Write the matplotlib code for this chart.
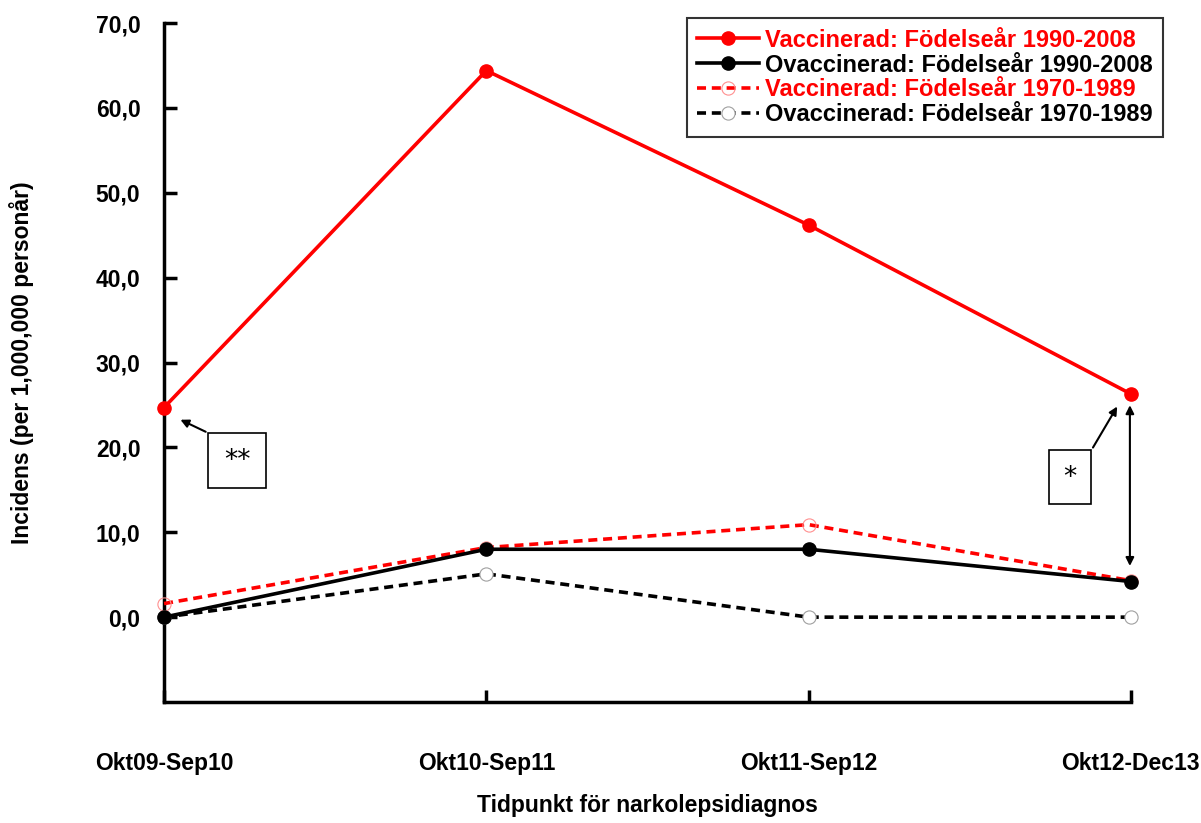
import matplotlib.pyplot as plt
from matplotlib.patches import Rectangle

plt.rcParams['font.family'] = ['Liberation Sans', 'DejaVu Sans']
plt.rcParams['font.weight'] = 'bold'

perioder = ['Okt09-Sep10', 'Okt10-Sep11', 'Okt11-Sep12', 'Okt12-Dec13']
vacc_90 = [24.7, 64.4, 46.2, 26.3]
ovacc_90 = [0.0, 8.0, 8.0, 4.2]
vacc_70 = [1.6, 8.2, 10.9, 4.3]
ovacc_70 = [0.0, 5.1, 0.0, 0.0]
y_ticks = [0, 10, 20, 30, 40, 50, 60, 70]

x = list(range(len(perioder)))

fig = plt.figure(figsize=(12.01, 8.23), dpi=100)
ax = fig.add_axes([0.1366, 0.147, 0.805, 0.825])

ax.plot(x, vacc_90, '-', color='#ff0000', lw=2.6, marker='o', ms=9.5,
        mfc='#ff0000', mec='#ff0000', clip_on=False, zorder=4,
        label='Vaccinerad: Födelseår 1990-2008')
ax.plot(x, ovacc_90, '-', color='black', lw=2.6, marker='o', ms=9.5,
        mfc='black', mec='black', clip_on=False, zorder=5,
        label='Ovaccinerad: Födelseår 1990-2008')
ax.plot(x, vacc_70, '--', color='#ff0000', lw=2.6, dashes=(2.5, 1.6), marker='o', ms=9.5,
        mfc='none', mec='#ff9090', mew=0.8, clip_on=False, zorder=4,
        label='Vaccinerad: Födelseår 1970-1989')
ax.plot(x, ovacc_70, '--', color='black', lw=2.6, dashes=(2.5, 1.6), marker='o', ms=9.5,
        mfc='white', mec='#a0a0a0', mew=0.8, clip_on=False, zorder=3,
        label='Ovaccinerad: Födelseår 1970-1989')

ax.set_xlim(0, 3)
ax.set_ylim(-10, 70)
ax.set_xticks(x)
ax.set_xticklabels(perioder, fontsize=16.5, fontweight='bold')
ax.set_yticks(y_ticks)
ax.set_yticklabels([f'{v},0' for v in y_ticks], fontsize=16.5, fontweight='bold')
ax.tick_params(direction='in', width=2.5, length=9, pad=36, axis='x')
ax.tick_params(direction='in', width=2.5, length=9, pad=17, axis='y')
for s in ['top', 'right']:
    ax.spines[s].set_visible(False)
for s in ['left', 'bottom']:
    ax.spines[s].set_linewidth(2.5)

ax.set_xlabel('Tidpunkt för narkolepsidiagnos', fontsize=16.5, fontweight='bold', labelpad=14)
ax.set_ylabel('Incidens (per 1,000,000 personår)', fontsize=16.5, fontweight='bold', labelpad=44)

leg = ax.legend(loc='upper right', bbox_to_anchor=(1163 / 1201, 1 - 18 / 823),
                bbox_transform=fig.transFigure, borderaxespad=0, fontsize=17,
                frameon=True, fancybox=False, edgecolor='black', handlelength=2.6,
                handletextpad=0.25, labelspacing=0.08, borderpad=0.45)
leg.get_frame().set_linewidth(1.5)
for txt, c in zip(leg.get_texts(), ['#ff0000', 'black', '#ff0000', 'black']):
    txt.set_color(c)
    txt.set_fontweight('bold')

# annotation boxes
ax.add_patch(Rectangle((0.137, 15.2), 0.18, 6.5, fill=False, ec='black', lw=1.2, zorder=6))
ax.text(0.227, 18.4, '**', ha='center', va='center', fontsize=19, fontweight='normal',
        family='DejaVu Sans')
ax.annotate('', xy=(0.043, 23.4), xytext=(0.137, 21.7),
            arrowprops=dict(arrowstyle='-|>', color='black', lw=1.5, mutation_scale=12))

ax.add_patch(Rectangle((2.746, 13.3), 0.13, 6.4, fill=False, ec='black', lw=1.2, zorder=6))
ax.text(2.811, 16.4, '*', ha='center', va='center', fontsize=19, fontweight='normal',
        family='DejaVu Sans')
ax.annotate('', xy=(2.962, 25.1), xytext=(2.878, 19.7),
            arrowprops=dict(arrowstyle='-|>', color='black', lw=1.5, mutation_scale=12))
ax.annotate('', xy=(2.997, 25.3), xytext=(2.997, 5.7),
            arrowprops=dict(arrowstyle='<|-|>', color='black', lw=1.5, mutation_scale=12))

fig.savefig('out.png', dpi=100)
